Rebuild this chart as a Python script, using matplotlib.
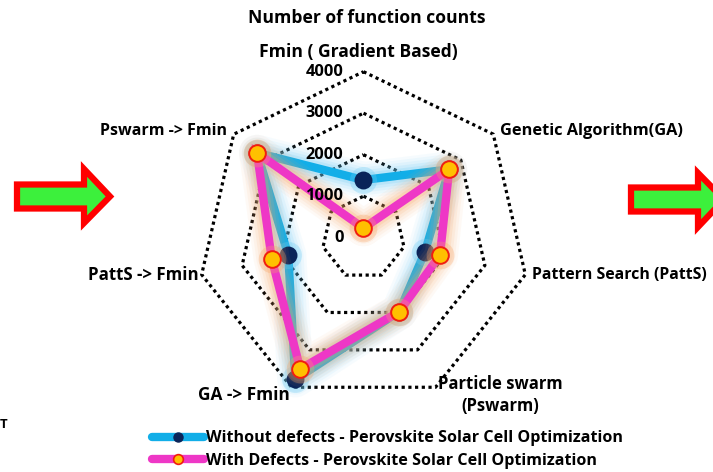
import numpy as np
import matplotlib
matplotlib.use("Agg")
import matplotlib.pyplot as plt
from matplotlib.lines import Line2D
from matplotlib.patches import Polygon
import matplotlib.transforms as mtransforms

plt.rcParams['font.family'] = ['Open Sans', 'DejaVu Sans']
plt.rcParams['font.weight'] = 'bold'

# ---- data ----
categories = ["Fmin ( Gradient Based)", "Genetic Algorithm(GA)", "Pattern Search (PattS)",
              "Particle swarm\n(Pswarm)", "GA -> Fmin", "PattS -> Fmin", "Pswarm -> Fmin"]
without_defects = [1390, 2640, 1520, 1980, 3790, 1860, 3280]
with_defects = [230, 2640, 1890, 1980, 3510, 2270, 3280]
ring_values = [1000, 2000, 3000, 4000]
radial_labels = ["0", "1000", "2000", "3000", "4000"]
series_names = ["Without defects - Perovskite Solar Cell Optimization",
                "With Defects - Perovskite Solar Cell Optimization"]

W, H = 713, 472
fig = plt.figure(figsize=(W / 100, H / 100), dpi=100)

cx, cy, R = 363.5, 237.7, 166.0
ax = fig.add_axes([(cx - R) / W, (H - cy - R) / H, 2 * R / W, 2 * R / H], projection='polar')
ax.set_theta_zero_location('N')
ax.set_theta_direction(-1)
ax.set_ylim(0, 4000)
ax.grid(False)
ax.set_xticks([])
ax.set_yticks([])
ax.spines['polar'].set_visible(False)
ax.patch.set_alpha(0)

n = len(categories)
theta = np.linspace(0, 2 * np.pi, n, endpoint=False)
theta_c = np.append(theta, theta[0])

# dotted heptagon rings
for v in ring_values:
    ax.plot(theta_c, [v] * (n + 1), color='black', lw=2.3, ls=(0, (1, 1.1)),
            dash_capstyle='butt', zorder=1, clip_on=False)

# radial labels
off = mtransforms.offset_copy(ax.transData, fig=fig, x=-20, y=0, units='dots')
for v, lab in zip([0] + ring_values, radial_labels):
    ax.text(0, v, lab, transform=off, ha='right', va='center', fontsize=11.8,
            fontweight='bold', color='black', zorder=6)

def draw_series(vals, line_c, glow_c, face, edge, ms, z):
    vc = list(vals) + [vals[0]]
    for lw, a in [(26, 0.06), (22, 0.08), (18, 0.10), (14, 0.14), (10, 0.2)]:
        ax.plot(theta_c, vc, color=glow_c, lw=lw, alpha=a, solid_joinstyle='round',
                solid_capstyle='round', zorder=z, clip_on=False)
    ax.plot(theta_c, vc, color=line_c, lw=6, solid_joinstyle='miter', zorder=z + 0.1, clip_on=False)
    ax.plot(theta, vals, ls='none', marker='o', ms=ms + 8, color=glow_c, alpha=0.3,
            markeredgewidth=0, zorder=z + 0.2, clip_on=False)
    ax.plot(theta, vals, ls='none', marker='o', ms=ms, markerfacecolor=face,
            markeredgecolor=edge, markeredgewidth=1.4, zorder=z + 0.3, clip_on=False)

draw_series(without_defects, '#12AEE8', '#6CCBF5', '#0A2459', '#0A2459', 11.5, 2)
draw_series(with_defects, '#EE37C6', '#F7A465', '#FFC000', '#F01E10', 12, 3)

def px(x, y):
    return x / W, 1 - y / H

def label(x, y, s, size, ha='center', **kw):
    fig.text(*px(x, y), s, ha=ha, va='center', fontsize=size, fontweight='bold', **kw)

label(367, 18, "Number of function counts", 12.6)
label(358, 52, categories[0], 12.6)
label(500, 131, categories[1], 11.8, ha='left')
label(532, 275, categories[2], 11.4, ha='left')
label(500, 395, categories[3], 12.0, linespacing=1.3)
label(244, 395, categories[4], 12.4)
label(199, 275, categories[5], 12.2, ha='right')
label(227, 131, categories[6], 11.5, ha='right')
label(0, 425, "T", 9.5, ha='left')

# arrows
def arrow(x0, xb, xt, yb0, yb1, yh0, yh1):
    ym = (yb0 + yb1) / 2
    pts = [(x0, yb0), (xb, yb0), (xb, yh0), (xt, ym), (xb, yh1), (xb, yb1), (x0, yb1)]
    pts = [px(*p) for p in pts]
    fig.patches.append(Polygon(pts, closed=True, transform=fig.transFigure,
                               facecolor='#3CF03C', edgecolor='#FF0000', lw=4.5,
                               joinstyle='miter'))

arrow(17, 84, 110, 184.5, 208.5, 169, 223)
arrow(631, 698, 724, 187.5, 211.5, 173, 227)

# legend
h1 = Line2D([0], [0], color='#12AEE8', lw=6, solid_capstyle='round', marker='o', ms=6.5,
            markerfacecolor='#0A2459', markeredgecolor='#0A2459')
h2 = Line2D([0], [0], color='#EE37C6', lw=6, solid_capstyle='round', marker='o', ms=7,
            markerfacecolor='#FFC000', markeredgecolor='#F01E10', markeredgewidth=1.2)
leg = fig.legend([h1, h2], series_names, loc='center left', bbox_to_anchor=px(152, 449.5),
                 frameon=False, prop={'size': 11.6, 'weight': 'bold'}, handlelength=3.2,
                 handletextpad=0.15, labelspacing=0.38, borderpad=0, borderaxespad=0)

fig.savefig('out.png', dpi=100)
